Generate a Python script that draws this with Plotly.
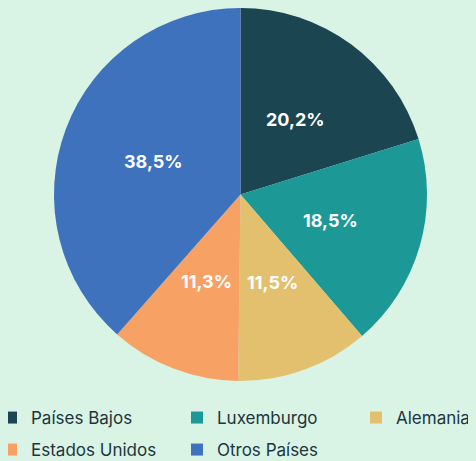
import math
import plotly.graph_objects as go

labels = ["Países Bajos", "Luxemburgo", "Alemania", "Estados Unidos", "Otros Países"]
values = [20.2, 18.5, 11.5, 11.3, 38.5]
text_labels = ["20,2%", "18,5%", "11,5%", "11,3%", "38,5%"]
colors = ["#1c4552", "#1c9896", "#e3c06e", "#f8a165", "#3e72bd"]
legend_groups = ["legend", "legend", "legend3", "legend2", "legend2"]

BG = "#d9f3e5"
# the page body adds an 8px offset; the figure is shifted to compensate
OFF = 8
W, H = 476, 461
ML, MR, MT, MB = 0, 0, 0, 88
FONT = "Inter"

pw, ph = W - ML - MR, H - MT - MB
radius = ph / 2
cx = 232.5 - ML  # pie centre (figure px, inside plot area)
dom_x = [(cx - radius) / pw, (cx + radius) / pw]

fig = go.Figure()
fig.add_trace(go.Pie(
    labels=labels,
    values=values,
    textinfo="none",
    sort=False,
    direction="clockwise",
    rotation=0,
    marker=dict(colors=colors, line=dict(width=0)),
    domain=dict(x=dom_x, y=[0, 1]),
    hoverinfo="label+percent",
    showlegend=False,
))

# legend entries (one per slice, same colours/names)
for lab, col, lg in zip(labels, colors, legend_groups):
    fig.add_trace(go.Scatter(
        x=[None], y=[None], mode="markers", name=lab,
        marker=dict(symbol="square", size=12, color=col),
        legend=lg, hoverinfo="skip",
    ))

# percentage labels placed on each slice bisector at half radius
total = sum(values)
cum = 0
for v, t in zip(values, text_labels):
    mid = (cum + v / 2) / total * 2 * math.pi
    cum += v
    dx = 0.5 * radius * math.sin(mid)
    dy = 0.5 * radius * math.cos(mid)
    fig.add_annotation(
        x=(cx + dx) / pw, y=0.5 + dy / ph, xref="paper", yref="paper",
        xanchor="center", yanchor="middle",
        text=t, showarrow=False,
        font=dict(family=FONT, size=18, color="white", weight="bold"),
    )

legend_common = dict(
    orientation="h",
    xanchor="left", yanchor="middle",
    font=dict(family=FONT, size=17, color="#1c3540"),
    bgcolor="rgba(0,0,0,0)",
    traceorder="normal",
)

def px_x(px):
    return (px - OFF - ML) / pw

def px_y(py):
    return (H - MB - (py - OFF)) / ph

LX = -9
fig.update_layout(
    width=W, height=H,
    paper_bgcolor=BG,
    plot_bgcolor=BG,
    margin=dict(l=ML, r=MR, t=MT, b=MB, autoexpand=False),
    xaxis=dict(visible=False),
    yaxis=dict(visible=False),
    showlegend=True,
    legend=dict(x=px_x(LX), y=px_y(418), entrywidth=141,
                entrywidthmode="pixels", **legend_common),
    legend3=dict(x=px_x(LX + 365), y=px_y(418), **legend_common),
    legend2=dict(x=px_x(LX), y=px_y(450), entrywidth=141,
                 entrywidthmode="pixels", **legend_common),
)

fig.write_html(
    "out.html",
    post_script=(
        "document.body.style.background='%s';"
        "document.documentElement.style.background='%s';" % (BG, BG)
    ),
)
